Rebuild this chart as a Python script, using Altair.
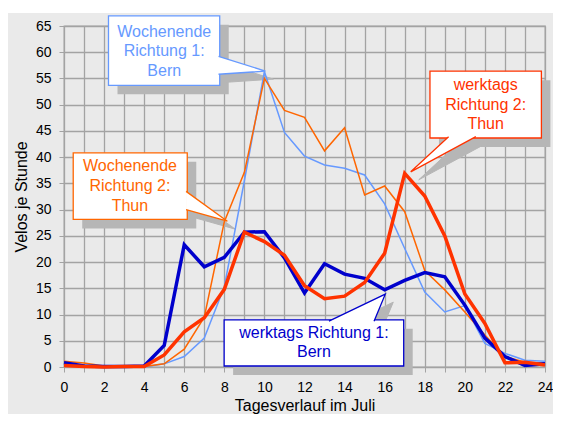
import altair as alt
import pandas as pd

# ---- data ----
hours = list(range(25))
werktags_bern = [0.8, 0.2, 0.1, 0.1, 0.2, 4.1, 23.3, 19.1, 20.9, 25.7, 25.8, 20.8, 14.1,
                 19.7, 17.7, 16.9, 14.7, 16.5, 18.0, 17.2, 11.8, 5.5, 2.0, 0.3, 0.6]
werktags_thun = [0.3, 0.1, 0.0, 0.1, 0.1, 2.3, 6.7, 9.4, 14.8, 25.7, 23.9, 21.3, 15.5,
                 13.0, 13.5, 16.1, 21.7, 36.9, 32.6, 25.0, 13.9, 8.3, 0.8, 0.9, 0.4]
wochenende_bern = [0.5, 0.1, 0.0, 0.0, 0.0, 0.6, 2.0, 5.5, 15.3, 35.5, 56.3, 44.7, 40.2,
                   38.5, 37.9, 36.6, 31.1, 22.6, 14.3, 10.5, 11.7, 4.5, 2.6, 1.3, 1.1]
wochenende_thun = [1.1, 0.75, 0.2, 0.2, 0.1, 0.6, 3.4, 9.5, 27.7, 37.1, 55.0, 48.9, 47.6,
                   41.2, 45.6, 32.8, 34.5, 29.6, 18.4, 14.7, 10.5, 6.1, 2.0, 0.9, 0.75]

x_ticks = list(range(0, 25))
y_ticks = list(range(0, 66, 5))

# callout annotations (data coordinates)
callout_names = ["we_bern", "we_thun", "wt_thun", "wt_bern"]
callout_colors = ["#6699ff", "#ff6600", "#ff3300", "#0000cc"]
box_x1 = [2.22, 0.46, 18.26, 7.99]
box_x2 = [7.77, 6.15, 23.82, 16.95]
box_y1 = [53.7, 28.13, 43.65, 0.19]
box_y2 = [66.94, 40.83, 56.39, 8.99]
callout_lines = [["Wochenende", "Richtung 1:", "Bern"],
                 ["Wochenende", "Richtung 2:", "Thun"],
                 ["werktags", "Richtung 2:", "Thun"],
                 ["werktags Richtung 1:", "Bern"]]
text_x = [5.0, 3.29, 21.04, 12.47]
text_y = [[63.93, 60.16, 56.39], [38.30, 34.54, 30.65], [53.7, 49.93, 46.35], [6.46, 2.83]]
# pointer triangles: base point A, tip, base point B
ptr_x = [[7.71, 10.05, 7.71], [6.09, 8.15, 6.09], [19.19, 17.3, 20.55], [13.22, 16.03, 15.47]]
ptr_y = [[59.2, 56.4, 55.8], [33.48, 27.8, 30.01], [43.9, 37.2, 43.9], [8.74, 13.89, 8.74]]

# ---- build tables ----
def series_df(vals):
    return pd.DataFrame({"h": hours, "v": vals})

boxes = pd.DataFrame({"name": callout_names, "color": callout_colors,
                      "x1": box_x1, "x2": box_x2, "y1": box_y1, "y2": box_y2})
trows = []
for i, lines in enumerate(callout_lines):
    for j, t in enumerate(lines):
        trows.append({"x": text_x[i], "y": text_y[i][j], "t": t, "color": callout_colors[i]})
texts = pd.DataFrame(trows)
prow = []
for i in range(4):
    for k in range(3):
        prow.append({"id": callout_names[i], "k": k, "x": ptr_x[i][k], "y": ptr_y[i][k],
                     "color": callout_colors[i]})
ptrs = pd.DataFrame(prow)

W, H = 481, 341
GRID = "#a3a3a3"
SHADOW = "#b6b6b6"
FONT = "Liberation Sans"

xs = alt.Scale(domain=[0, 24], nice=False)
ys = alt.Scale(domain=[0, 65], nice=False)

xaxis = alt.Axis(values=x_ticks, labelExpr="datum.value % 2 == 0 ? datum.label : ''",
                 grid=True, gridColor=GRID, gridWidth=1.3, domainColor=GRID, tickColor=GRID,
                 tickSize=5, labelPadding=8, labelFont=FONT, labelFontSize=14,
                 labelColor="#000000", labelFlush=False,
                 titleFont=FONT, titleFontSize=16, titleFontWeight="normal",
                 titleColor="#000000", titleX=W / 2, titleY=43.5,
                 titleBaseline="alphabetic", titleAlign="center")
yaxis = alt.Axis(values=y_ticks, grid=True, gridColor=GRID, gridWidth=1.3, domainColor=GRID,
                 tickColor=GRID, tickSize=5, labelPadding=8, labelFont=FONT, labelFontSize=14,
                 labelColor="#000000", titleFont=FONT,
                 titleFontSize=16, titleFontWeight="normal", titleColor="#000000",
                 titleAngle=270, titleX=-37.3, titleY=H / 2, titleBaseline="alphabetic",
                 titleAlign="center")


def X(field):
    return alt.X(field, scale=xs, axis=xaxis, title="Tagesverlauf im Juli")


def Y(field):
    return alt.Y(field, scale=ys, axis=yaxis, title="Velos je Stunde")


def line_layer(vals, color, width):
    return alt.Chart(series_df(vals)).mark_line(color=color, strokeWidth=width,
                                                strokeJoin="miter").encode(
        x=X("h:Q"), y=Y("v:Q"))

top_strip = alt.Chart(pd.DataFrame({"a": [0]})).mark_rect(color="#ffffff").encode(
    x=alt.value(-60), x2=alt.value(W + 10), y=alt.value(-20), y2=alt.value(-13))

shadow_boxes = alt.Chart(boxes).mark_rect(color=SHADOW, xOffset=9, x2Offset=9,
                                          yOffset=9, y2Offset=9).encode(
    x=X("x1:Q"), x2="x2:Q", y=Y("y1:Q"), y2="y2:Q")
shadow_ptrs = alt.Chart(ptrs).mark_line(color=SHADOW, fill=SHADOW, strokeWidth=1,
                                        xOffset=8, yOffset=8).encode(
    x=X("x:Q"), y=Y("y:Q"), order="k:Q", detail="id:N")

box_layer = alt.Chart(boxes).mark_rect(fill="#ffffff", strokeWidth=1.3).encode(
    x=X("x1:Q"), x2="x2:Q", y=Y("y1:Q"), y2="y2:Q",
    stroke=alt.Stroke("color:N", scale=None))
ptr_layer = alt.Chart(ptrs).mark_line(fill="#ffffff", strokeWidth=1.3).encode(
    x=X("x:Q"), y=Y("y:Q"), order="k:Q", detail="id:N",
    stroke=alt.Stroke("color:N", scale=None))
text_layer = alt.Chart(texts).mark_text(font=FONT, fontSize=16, align="center",
                                        baseline="middle").encode(
    x=X("x:Q"), y=Y("y:Q"), text="t:N",
    color=alt.Color("color:N", scale=None))

chart = alt.layer(
    top_strip,
    shadow_boxes,
    shadow_ptrs,
    line_layer(wochenende_bern, "#6699ff", 1.5),
    line_layer(wochenende_thun, "#ff6600", 1.5),
    line_layer(werktags_bern, "#0000cc", 3.5),
    line_layer(werktags_thun, "#ff3300", 3.5),
    box_layer,
    ptr_layer,
    text_layer,
).properties(
    width=W, height=H,
    autosize=alt.AutoSizeParams(type="none"),
    padding={"left": 56, "top": 18, "right": 8, "bottom": 47},
    background="#eaeaea",
).configure_view(stroke=GRID, fill="#eaeaea", strokeWidth=1.3)

chart.save("out.html", embed_options={"renderer": "svg", "actions": False})
